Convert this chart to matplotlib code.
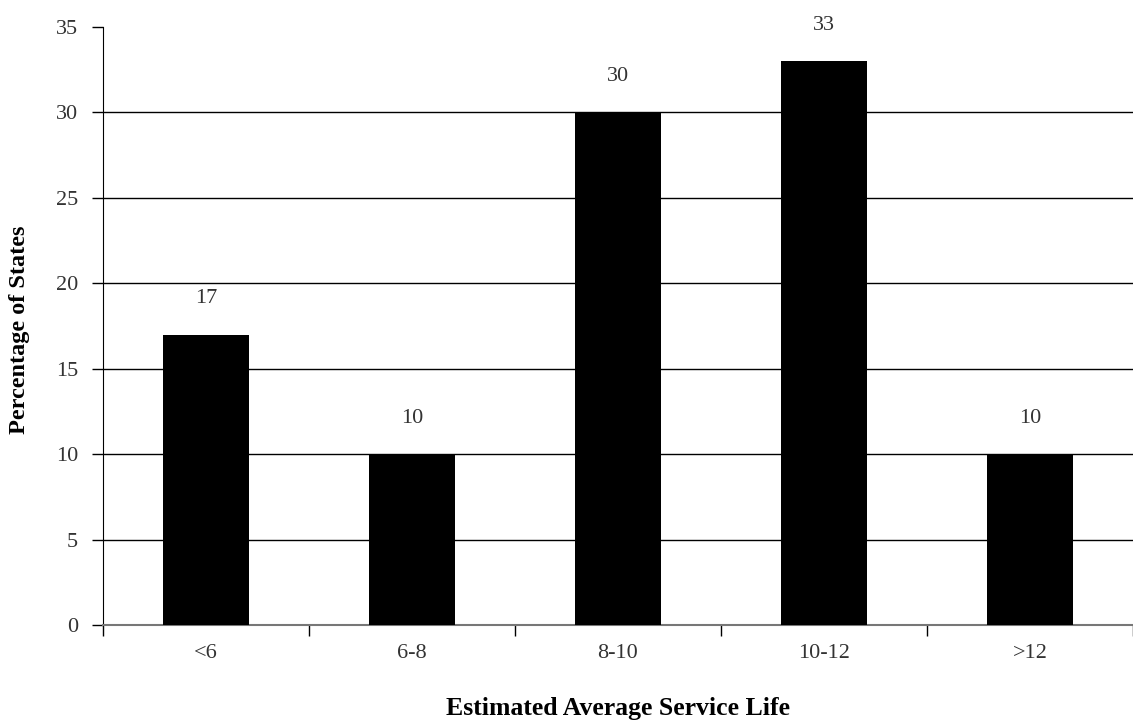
import matplotlib
matplotlib.use("Agg")
import matplotlib.pyplot as plt
import numpy as np

categories = ["<6", "6-8", "8-10", "10-12", ">12"]
values = [17, 10, 30, 33, 10]
yticks = [0, 5, 10, 15, 20, 25, 30, 35]

plt.rcParams['font.family'] = ['Liberation Serif', 'DejaVu Serif']

W, H = 1133, 721
fig = plt.figure(figsize=(W/100, H/100), dpi=100)
left = 103 / W
bottom = 1 - 625 / H
top = 1 - 27 / H
ax = fig.add_axes([left, bottom, 1.0 - left, top - bottom])

x = np.arange(len(categories))
ax.bar(x, values, width=0.42, color='black', zorder=3)

for xi, v in zip(x, values):
    ax.annotate(str(v), (xi, v), xytext=(0, 26), textcoords='offset points',
                ha='center', va='center', fontsize=16, color='#333333')

ax.set_xlim(-0.5, 4.5 - (103 + 5 * 207 - W) / 207)
ax.set_ylim(0, 35)

ax.set_yticks(yticks)
ax.set_yticklabels([str(t) for t in yticks], fontsize=16, color='#333333')
for t in yticks[1:-1]:
    ax.axhline(t, color='black', lw=1.0, zorder=1)

ax.set_xticks(np.arange(len(categories) + 1) - 0.5)
ax.set_xticklabels([])
ax.set_xticks(x, minor=True)
ax.set_xticklabels(categories, minor=True, fontsize=16, color='#333333')
ax.tick_params(axis='x', which='minor', length=0, pad=14)
ax.tick_params(axis='x', which='major', length=8, width=1, direction='out')
ax.tick_params(axis='y', length=8, width=1, direction='out', pad=10)

for s in ['top', 'right']:
    ax.spines[s].set_visible(False)
ax.spines['left'].set_color('black')
ax.spines['bottom'].set_color('#777777')
ax.spines['bottom'].set_linewidth(1.5)

fig.text(618 / W, 1 - 708 / H, "Estimated Average Service Life", fontsize=18.5,
         fontweight='bold', ha='center', va='center')
fig.text(20 / W, 1 - 330 / H, "Percentage of States", fontsize=17.5,
         fontweight='bold', ha='center', va='center', rotation=90)

fig.savefig("out.png", dpi=100)
